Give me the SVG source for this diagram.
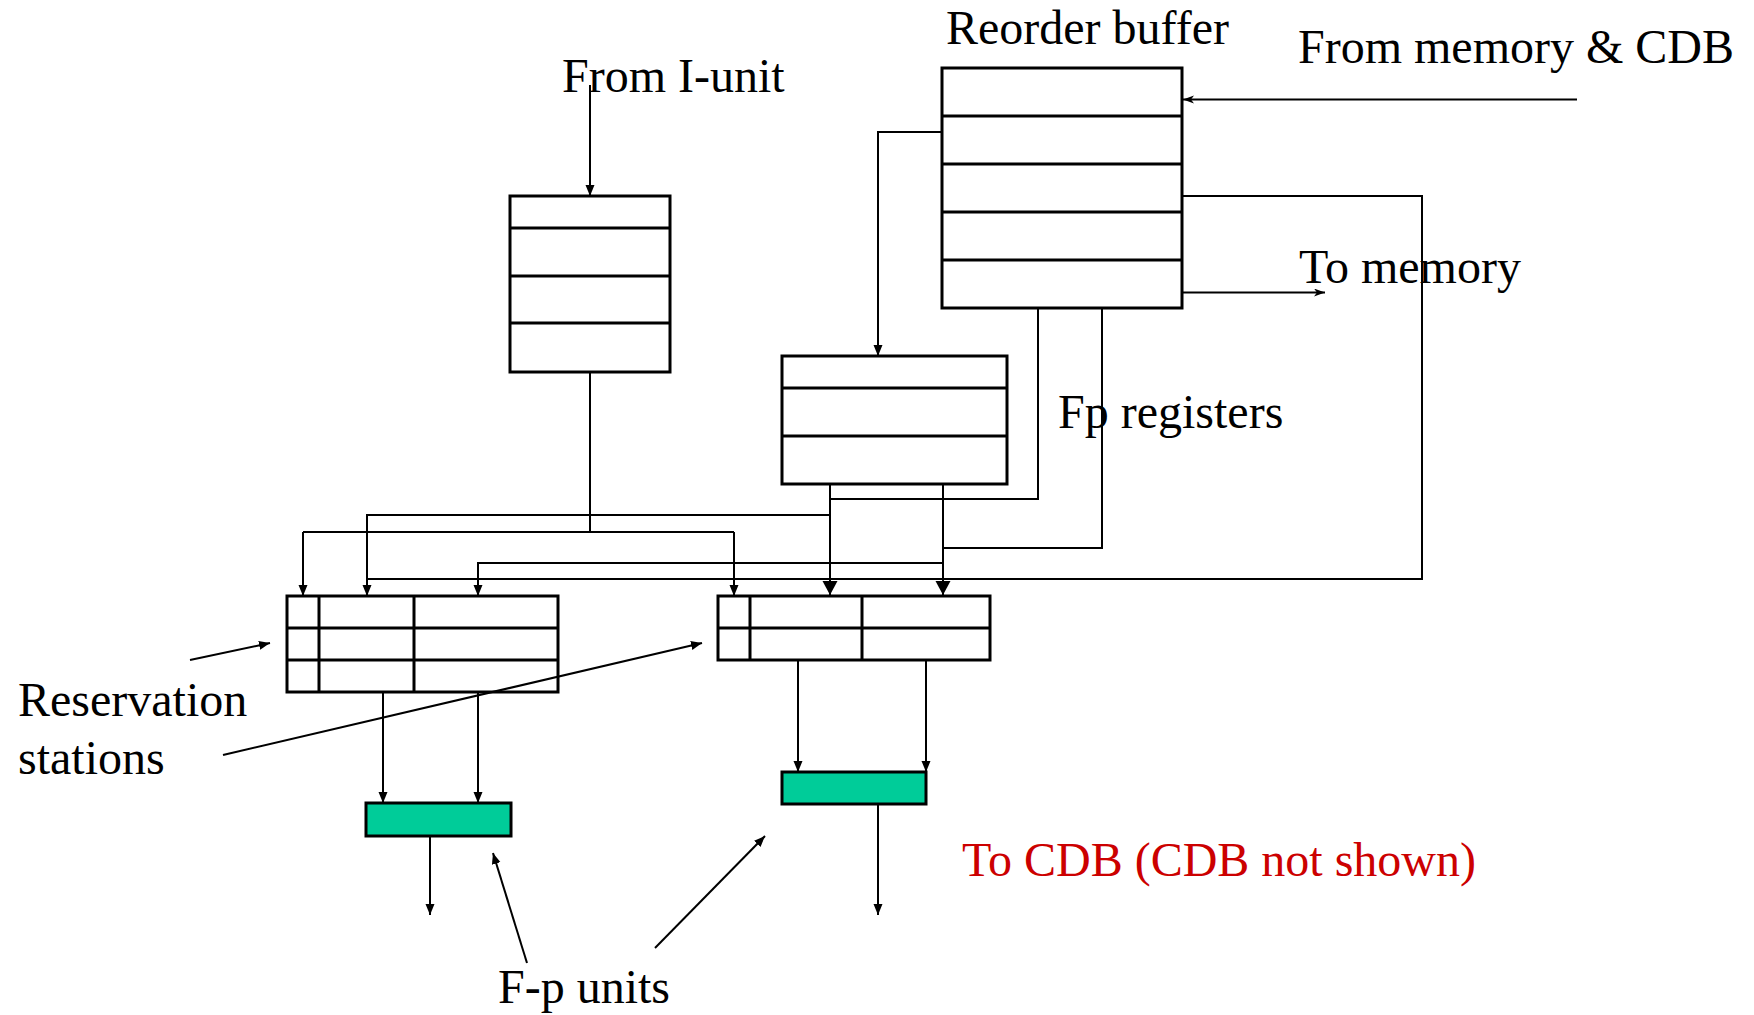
<svg xmlns="http://www.w3.org/2000/svg" width="1754" height="1015" viewBox="0 0 1754 1015">
<style>
  .box { fill: #ffffff; stroke: #000000; stroke-width: 3; }
  .row { stroke: #000000; stroke-width: 3; fill: none; }
  .fpu { fill: #00CC99; stroke: #000000; stroke-width: 3; }
  .wire { fill: none; stroke: #000000; stroke-width: 2; }
  .a { marker-end: url(#arr); }
  .ab { marker-end: url(#arrBig); }
  .as { marker-end: url(#arrStealth); }
  .lbl { font-family: "Liberation Serif", "Times New Roman", serif; font-size: 48px; fill: #000000; }
  .red { fill: #CC0000; }
</style>
<defs>
  <marker id="arr" markerUnits="userSpaceOnUse" markerWidth="12" markerHeight="10" refX="11" refY="4.5" orient="auto">
    <path d="M0,0 L11,4.5 L0,9 Z" fill="#000000"/>
  </marker>
  <marker id="arrBig" markerUnits="userSpaceOnUse" markerWidth="16" markerHeight="16" refX="14" refY="7.5" orient="auto">
    <path d="M0,0 L14,7.5 L0,15 Z" fill="#000000"/>
  </marker>
  <marker id="arrStealth" markerUnits="userSpaceOnUse" markerWidth="12" markerHeight="10" refX="11" refY="4" orient="auto">
    <path d="M0,0 L11,4 L0,8 L3,4 Z" fill="#000000"/>
  </marker>
</defs>
<rect width="1754" height="1015" fill="#ffffff"/>

<g id="connectors">
  <path class="wire a" d="M590,85 V196"/>
  <path class="wire" d="M590,372 V532"/>
  <path class="wire" d="M303,532 H734"/>
  <path class="wire a" d="M303,532 V596"/>
  <path class="wire a" d="M734,532 V596"/>
  <path class="wire a" d="M942,132 H878 V356"/>
  <path class="wire" d="M1038,307 V499 H830"/>
  <path class="wire" d="M1102,307 V548 H943"/>
  <path class="wire ab" d="M830,484 V595"/>
  <path class="wire ab" d="M943,484 V595"/>
  <path class="wire a" d="M830,515 H367 V596"/>
  <path class="wire a" d="M943,563 H478 V596"/>
  <path class="wire" d="M1182,196 H1422 V579 H367"/>
  <path class="wire as" d="M1577,99.5 H1183"/>
  <path class="wire as" d="M1182,292.5 H1325"/>
  <path class="wire a" d="M383,692 V803"/>
  <path class="wire a" d="M478,692 V803"/>
  <path class="wire a" d="M430,836 V915"/>
  <path class="wire a" d="M798,660 V772"/>
  <path class="wire a" d="M926,660 V772"/>
  <path class="wire a" d="M878,804 V915"/>
  <path class="wire a" d="M190,660 L270,643"/>
  <path class="wire a" d="M223,755 L702,643"/>
  <path class="wire a" d="M527,963 L493,853"/>
  <path class="wire a" d="M655,948 L765,836"/>
</g>

<g id="iunit-queue">
  <rect class="box" x="510" y="196" width="160" height="176"/>
  <path class="row" d="M510,228 H670 M510,276 H670 M510,323 H670"/>
</g>

<g id="reorder-buffer">
  <rect class="box" x="942" y="68" width="240" height="240"/>
  <path class="row" d="M942,116 H1182 M942,164 H1182 M942,212 H1182 M942,260 H1182"/>
</g>

<g id="fp-registers">
  <rect class="box" x="782" y="356" width="225" height="128"/>
  <path class="row" d="M782,388 H1007 M782,436 H1007"/>
</g>

<g id="rs-left">
  <rect class="box" x="287" y="596" width="271" height="96" style="fill:none"/>
  <path class="row" d="M287,628 H558 M287,660 H558 M319,596 V692 M414,596 V692"/>
</g>

<g id="rs-right">
  <rect class="box" x="718" y="596" width="272" height="64" style="fill:none"/>
  <path class="row" d="M718,628 H990 M750,596 V660 M862,596 V660"/>
</g>

<g id="fp-unit-1">
  <rect class="fpu" x="366" y="803" width="145" height="33"/>
</g>

<g id="fp-unit-2">
  <rect class="fpu" x="782" y="772" width="144" height="32"/>
</g>

<g id="labels">
  <text class="lbl" x="946" y="44">Reorder buffer</text>
  <text class="lbl" x="1298" y="63">From memory &amp; CDB</text>
  <text class="lbl" x="562" y="92">From I-unit</text>
  <text class="lbl" x="1299" y="283">To memory</text>
  <text class="lbl" x="1058" y="428">Fp registers</text>
  <text class="lbl" x="18" y="716">Reservation</text>
  <text class="lbl" x="18" y="774">stations</text>
  <text class="lbl red" x="962" y="876">To CDB (CDB not shown)</text>
  <text class="lbl" x="498" y="1003">F-p units</text>
</g>
</svg>
